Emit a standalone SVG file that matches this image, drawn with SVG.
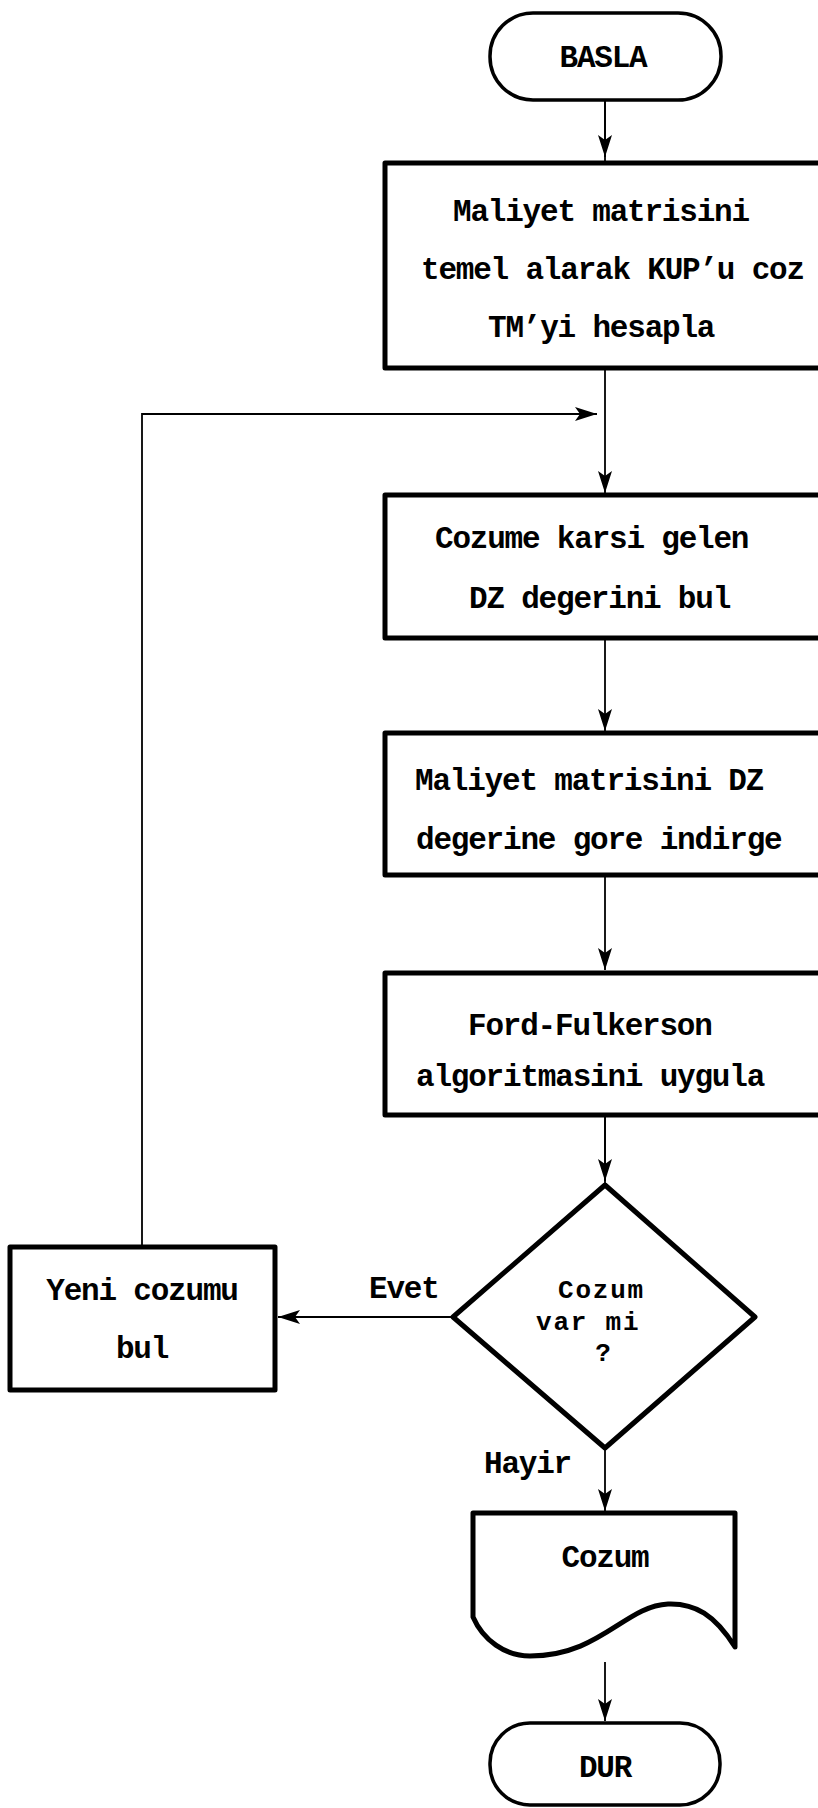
<svg xmlns="http://www.w3.org/2000/svg" width="818" height="1808" viewBox="0 0 818 1808">
  <style>
    .shape { fill: #fff; stroke: #000; stroke-width: 5; stroke-linejoin: round; }
    .term { fill: #fff; stroke: #000; stroke-width: 3.5; }
    .wire { fill: none; stroke: #000; stroke-width: 1.8; }
    .lbl { font-family: "Liberation Mono", "DejaVu Sans Mono", monospace; font-size: 31px; letter-spacing: -1.2px; font-weight: bold; fill: #000; }
    .small { font-size: 26px; letter-spacing: 1.8px; }
    .mid { text-anchor: middle; }
  </style>
  <defs>
    <marker id="arrow" markerUnits="userSpaceOnUse" markerWidth="24" markerHeight="16" refX="22" refY="7" orient="auto">
      <path d="M0,0 L22,7 L0,14 L5,7 Z" fill="#000"/>
    </marker>
  </defs>

  <g id="connectors">
    <line class="wire" x1="605" y1="100" x2="605" y2="163"/>
    <line class="wire" x1="605" y1="100" x2="605" y2="157" marker-end="url(#arrow)"/>
    <line class="wire" x1="605" y1="368" x2="605" y2="493" marker-end="url(#arrow)"/>
    <line class="wire" x1="605" y1="638" x2="605" y2="731" marker-end="url(#arrow)"/>
    <line class="wire" x1="605" y1="875" x2="605" y2="970" marker-end="url(#arrow)"/>
    <line class="wire" x1="605" y1="1115" x2="605" y2="1185"/>
    <line class="wire" x1="605" y1="1115" x2="605" y2="1181" marker-end="url(#arrow)"/>
    <line class="wire" x1="605" y1="1448" x2="605" y2="1511" marker-end="url(#arrow)"/>
    <line class="wire" x1="605" y1="1662" x2="605" y2="1721" marker-end="url(#arrow)"/>
    <line class="wire" x1="453" y1="1317" x2="278" y2="1317" marker-end="url(#arrow)"/>
    <polyline class="wire" points="142,1247 142,414 597,414" marker-end="url(#arrow)"/>
    <text class="lbl" x="369" y="1298">Evet</text>
    <text class="lbl" x="484" y="1473">Hayir</text>
  </g>

  <g id="start">
    <rect class="term" x="490" y="13" width="231" height="87" rx="43" ry="43"/>
    <text class="lbl mid" x="603" y="67">BASLA</text>
  </g>

  <g id="solve-kup">
    <rect class="shape" x="385" y="163" width="460" height="205"/>
    <text class="lbl" x="453" y="221">Maliyet matrisini</text>
    <text class="lbl" x="421" y="279">temel alarak KUP’u coz</text>
    <text class="lbl" x="488" y="337">TM’yi hesapla</text>
  </g>

  <g id="find-dz">
    <rect class="shape" x="385" y="495" width="460" height="143"/>
    <text class="lbl" x="435" y="548">Cozume karsi gelen</text>
    <text class="lbl" x="469" y="608">DZ degerini bul</text>
  </g>

  <g id="reduce-matrix">
    <rect class="shape" x="385" y="733" width="460" height="142"/>
    <text class="lbl" x="415" y="790">Maliyet matrisini DZ</text>
    <text class="lbl" x="416" y="849">degerine gore indirge</text>
  </g>

  <g id="ford-fulkerson">
    <rect class="shape" x="385" y="973" width="460" height="142"/>
    <text class="lbl" x="468" y="1035">Ford-Fulkerson</text>
    <text class="lbl" x="416" y="1086">algoritmasini uygula</text>
  </g>

  <g id="decision">
    <polygon class="shape" points="605,1185 755,1317 605,1448 453,1317"/>
    <text class="lbl small" x="558" y="1298">Cozum</text>
    <text class="lbl small" x="536" y="1330">var mi</text>
    <text class="lbl small mid" x="604" y="1361">?</text>
  </g>

  <g id="new-solution">
    <rect class="shape" x="10" y="1247" width="265" height="143"/>
    <text class="lbl mid" x="142" y="1300">Yeni cozumu</text>
    <text class="lbl mid" x="142" y="1358">bul</text>
  </g>

  <g id="result">
    <path class="shape" d="M473,1513 H735 V1647 C715,1615 695,1603 668,1604 C625,1606 600,1656 530,1656 C505,1656 483,1640 473,1617 Z"/>
    <text class="lbl mid" x="605" y="1567">Cozum</text>
  </g>

  <g id="stop">
    <rect class="term" x="490" y="1723" width="230" height="82" rx="40" ry="40"/>
    <text class="lbl mid" x="605" y="1777">DUR</text>
  </g>
</svg>
